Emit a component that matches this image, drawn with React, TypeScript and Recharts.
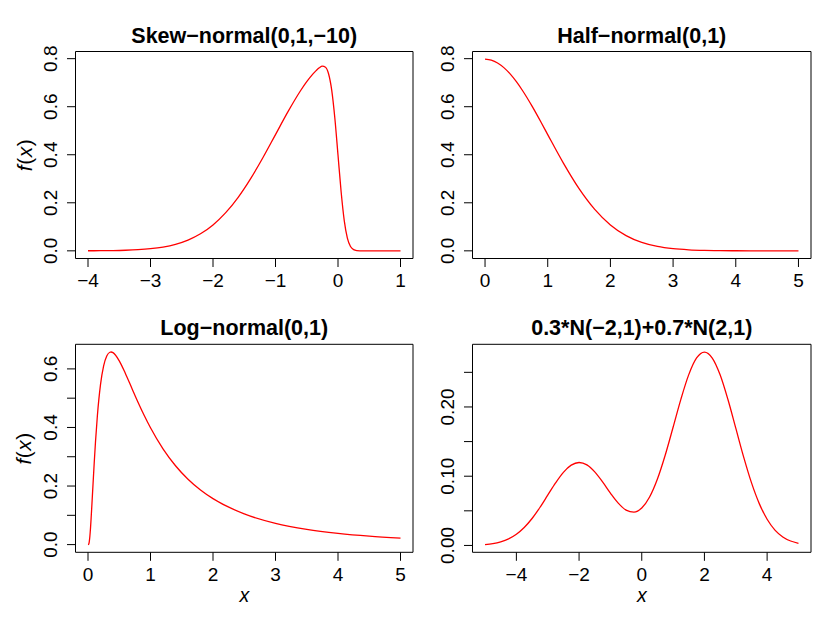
import React from "react";
import { LineChart, Line, XAxis, YAxis, ReferenceArea } from "recharts";

const FONT = '"Liberation Sans", Arial, Helvetica, sans-serif';
const INK = "#000";
const CURVE = "#ff0000";

// Skew-normal(0,1,-10)
const skewX = [-4, -3.8, -3.6, -3.4, -3.2, -3, -2.8, -2.6, -2.4, -2.2, -2, -1.8, -1.6, -1.4, -1.2, -1, -0.8, -0.6, -0.5, -0.4, -0.35, -0.3, -0.25, -0.2, -0.15, -0.1, -0.05, 0, 0.05, 0.1, 0.15, 0.2, 0.25, 0.3, 0.35, 0.4, 0.6, 0.8, 1];
const skewY = [0.0003, 0.0006, 0.0012, 0.0025, 0.0048, 0.0089, 0.0158, 0.0272, 0.0448, 0.071, 0.108, 0.1579, 0.2218, 0.2995, 0.3884, 0.4839, 0.5794, 0.6664, 0.7041, 0.7366, 0.7503, 0.7618, 0.7686, 0.7642, 0.7363, 0.668, 0.551, 0.3989, 0.2458, 0.126, 0.0527, 0.0178, 0.0048, 0.001, 0.0002, 0, 0, 0, 0];

// Half-normal(0,1)
const halfX = [0, 0.1, 0.2, 0.3, 0.4, 0.5, 0.6, 0.75, 0.9, 1, 1.25, 1.5, 1.75, 2, 2.25, 2.5, 2.75, 3, 3.25, 3.5, 3.75, 4, 4.5, 5];
const halfY = [0.7979, 0.7939, 0.7821, 0.7627, 0.7365, 0.7041, 0.6664, 0.6023, 0.5322, 0.4839, 0.3653, 0.259, 0.1726, 0.108, 0.0635, 0.0351, 0.0182, 0.0089, 0.0041, 0.0017, 0.0007, 0.0003, 0.00003, 0];

// Log-normal(0,1)
const lognX = [0, 0.01, 0.02, 0.03, 0.04, 0.05, 0.07, 0.1, 0.12, 0.15, 0.2, 0.25, 0.3, 0.35, 0.37, 0.4, 0.5, 0.6, 0.7, 0.8, 0.9, 1, 1.2, 1.4, 1.6, 1.8, 2, 2.5, 3, 3.5, 4, 4.5, 5];
const lognY = [0, 0.001, 0.0095, 0.0284, 0.0562, 0.0898, 0.1661, 0.2815, 0.3511, 0.4399, 0.5463, 0.6104, 0.6442, 0.6569, 0.6577, 0.6555, 0.6276, 0.5836, 0.5348, 0.4864, 0.4408, 0.3989, 0.327, 0.2693, 0.2233, 0.1865, 0.1569, 0.1049, 0.0727, 0.052, 0.0382, 0.0286, 0.0219];

// 0.3*N(-2,1)+0.7*N(2,1)
const mixX = [-5, -4.75, -4.5, -4.25, -4, -3.75, -3.5, -3.25, -3, -2.75, -2.5, -2.25, -2, -1.75, -1.5, -1.25, -1, -0.75, -0.5, -0.25, 0, 0.25, 0.5, 0.75, 1, 1.25, 1.5, 1.75, 2, 2.25, 2.5, 2.75, 3, 3.25, 3.5, 3.75, 4, 4.25, 4.5, 4.75, 5];
const mixY = [0.0013, 0.0027, 0.0053, 0.0095, 0.0162, 0.0259, 0.0389, 0.0548, 0.0726, 0.0903, 0.1056, 0.116, 0.1198, 0.1163, 0.1062, 0.0918, 0.0757, 0.0612, 0.0511, 0.0481, 0.054, 0.0699, 0.0959, 0.1306, 0.1707, 0.2114, 0.2467, 0.2708, 0.2793, 0.2707, 0.2465, 0.2108, 0.1694, 0.1279, 0.0907, 0.0604, 0.0378, 0.0222, 0.0123, 0.0064, 0.0031];

// axis ticks
const skewXTicks = [-4, -3, -2, -1, 0, 1];
const unitXTicks = [0, 1, 2, 3, 4, 5];
const mixXTicks = [-4, -2, 0, 2, 4];
const topYTicks = [0, 0.2, 0.4, 0.6, 0.8];
const lognYTicks = [0, 0.1, 0.2, 0.3, 0.4, 0.5, 0.6];
const lognYLabels = [0, 0.2, 0.4, 0.6];
const mixYTicks = [0, 0.05, 0.1, 0.15, 0.2, 0.25];
const mixYLabels = [0, 0.1, 0.2];

const toRows = (xs: number[], ys: number[]) => xs.map((x, i) => ({ x, y: ys[i] }));
const minus = (s: string) => s.replace("-", "\u2212");

const TICK = 8.5;
const TICK_FONT = 19;
const YAXIS_W = 30;
const XAXIS_H = 30;

type PanelProps = {
  rows: { x: number; y: number }[];
  xDomain: [number, number];
  yDomain: [number, number];
  xTicks: number[];
  yTicks: number[];
  yLabels: number[];
  yDigits: number;
  box: [number, number, number, number];
  frame: [number, number, number, number];
};

function Panel(p: PanelProps) {
  const [x0, y0, x1, y1] = p.box;
  const [cx, cy, cw, ch] = p.frame;
  const margin = {
    top: y0 - cy,
    bottom: cy + ch - y1 - XAXIS_H,
    left: x0 - cx - YAXIS_W,
    right: cx + cw - x1,
  };
  return (
    <div style={{ position: "absolute", left: cx, top: cy, width: cw, height: ch }}>
      <LineChart width={cw} height={ch} data={p.rows} margin={margin} style={{ overflow: "visible" }}>
        <XAxis
          type="number"
          dataKey="x"
          domain={p.xDomain}
          ticks={p.xTicks}
          interval={0}
          allowDataOverflow
          height={XAXIS_H}
          axisLine={false}
          tickSize={TICK}
          tickMargin={0}
          tickLine={{ stroke: INK, strokeWidth: 1 }}
          tick={(t: any) => (
            <text x={t.x} y={t.y + 19.8} textAnchor="middle" fontFamily={FONT} fontSize={TICK_FONT} fill={INK}>
              {minus(String(t.payload.value))}
            </text>
          )}
        />
        <YAxis
          type="number"
          domain={p.yDomain}
          ticks={p.yTicks}
          interval={0}
          allowDataOverflow
          width={YAXIS_W}
          axisLine={false}
          tickSize={TICK}
          tickMargin={0}
          tickLine={{ stroke: INK, strokeWidth: 1 }}
          tick={(t: any) =>
            p.yLabels.includes(t.payload.value) ? (
              <text
                x={t.x - 9.5}
                y={t.y}
                transform={`rotate(-90, ${t.x - 9.5}, ${t.y})`}
                textAnchor="middle"
                fontFamily={FONT}
                fontSize={TICK_FONT}
                fill={INK}
              >
                {Number(t.payload.value).toFixed(p.yDigits)}
              </text>
            ) : (
              <g />
            )
          }
        />
        <ReferenceArea
          x1={p.xDomain[0]}
          x2={p.xDomain[1]}
          y1={p.yDomain[0]}
          y2={p.yDomain[1]}
          fill="none"
          stroke={INK}
          strokeWidth={1}
          ifOverflow="visible"
        />
        <Line type="monotone" dataKey="y" stroke={CURVE} strokeWidth={1.3} dot={false} isAnimationActive={false} />
      </LineChart>
    </div>
  );
}

const LEFT_BOX: [number, number] = [75.5, 413];
const RIGHT_BOX: [number, number] = [472.5, 811];
const TOP_BOX: [number, number] = [51.5, 258.5];
const BOTTOM_BOX: [number, number] = [344.3, 552.3];

function Title({ x, y, children }: { x: number; y: number; children: React.ReactNode }) {
  return (
    <text x={x} y={y} textAnchor="middle" fontFamily={FONT} fontSize={21.5} fontWeight="bold" fill={INK}>
      {children}
    </text>
  );
}

function FxLabel({ cy }: { cy: number }) {
  return (
    <text
      x={31.5}
      y={cy}
      transform={`rotate(-90, 31.5, ${cy})`}
      textAnchor="middle"
      fontFamily={FONT}
      fontSize={21}
      letterSpacing={0.5}
      fill={INK}
    >
      <tspan fontStyle="italic">f</tspan>(<tspan fontStyle="italic">x</tspan>)
    </text>
  );
}

function XLabel({ cx }: { cx: number }) {
  return (
    <text x={cx} y={601.5} textAnchor="middle" fontFamily={FONT} fontSize={19.5} fontStyle="italic" fill={INK}>
      x
    </text>
  );
}

export default function App() {
  const lc = (LEFT_BOX[0] + LEFT_BOX[1]) / 2;
  const rc = (RIGHT_BOX[0] + RIGHT_BOX[1]) / 2;
  return (
    <div style={{ position: "absolute", left: 0, top: 0, width: 828, height: 621, background: "#fff" }}>
      <Panel
        rows={toRows(skewX, skewY)}
        xDomain={[-4.2, 1.2]}
        yDomain={[-0.0319, 0.8298]}
        xTicks={skewXTicks}
        yTicks={topYTicks}
        yLabels={topYTicks}
        yDigits={1}
        box={[LEFT_BOX[0], TOP_BOX[0], LEFT_BOX[1], TOP_BOX[1]]}
        frame={[0, 0, 420, 300]}
      />
      <Panel
        rows={toRows(halfX, halfY)}
        xDomain={[-0.2, 5.2]}
        yDomain={[-0.0319, 0.8298]}
        xTicks={unitXTicks}
        yTicks={topYTicks}
        yLabels={topYTicks}
        yDigits={1}
        box={[RIGHT_BOX[0], TOP_BOX[0], RIGHT_BOX[1], TOP_BOX[1]]}
        frame={[414, 0, 414, 300]}
      />
      <Panel
        rows={toRows(lognX, lognY)}
        xDomain={[-0.2, 5.2]}
        yDomain={[-0.0263, 0.684]}
        xTicks={unitXTicks}
        yTicks={lognYTicks}
        yLabels={lognYLabels}
        yDigits={1}
        box={[LEFT_BOX[0], BOTTOM_BOX[0], LEFT_BOX[1], BOTTOM_BOX[1]]}
        frame={[0, 300, 420, 321]}
      />
      <Panel
        rows={toRows(mixX, mixY)}
        xDomain={[-5.4, 5.4]}
        yDomain={[-0.0099, 0.2905]}
        xTicks={mixXTicks}
        yTicks={mixYTicks}
        yLabels={mixYLabels}
        yDigits={2}
        box={[RIGHT_BOX[0], BOTTOM_BOX[0], RIGHT_BOX[1], BOTTOM_BOX[1]]}
        frame={[414, 300, 414, 321]}
      />
      <svg width={828} height={621} style={{ position: "absolute", left: 0, top: 0, pointerEvents: "none" }}>
        <Title x={lc} y={42.7}>Skew{"\u2212"}normal(0,1,{"\u2212"}10)</Title>
        <Title x={rc} y={42.7}>Half{"\u2212"}normal(0,1)</Title>
        <Title x={lc} y={335.4}>Log{"\u2212"}normal(0,1)</Title>
        <Title x={rc} y={335.4}>0.3*N({"\u2212"}2,1)+0.7*N(2,1)</Title>
        <FxLabel cy={(TOP_BOX[0] + TOP_BOX[1]) / 2} />
        <FxLabel cy={(BOTTOM_BOX[0] + BOTTOM_BOX[1]) / 2} />
        <XLabel cx={lc} />
        <XLabel cx={rc} />
      </svg>
    </div>
  );
}
